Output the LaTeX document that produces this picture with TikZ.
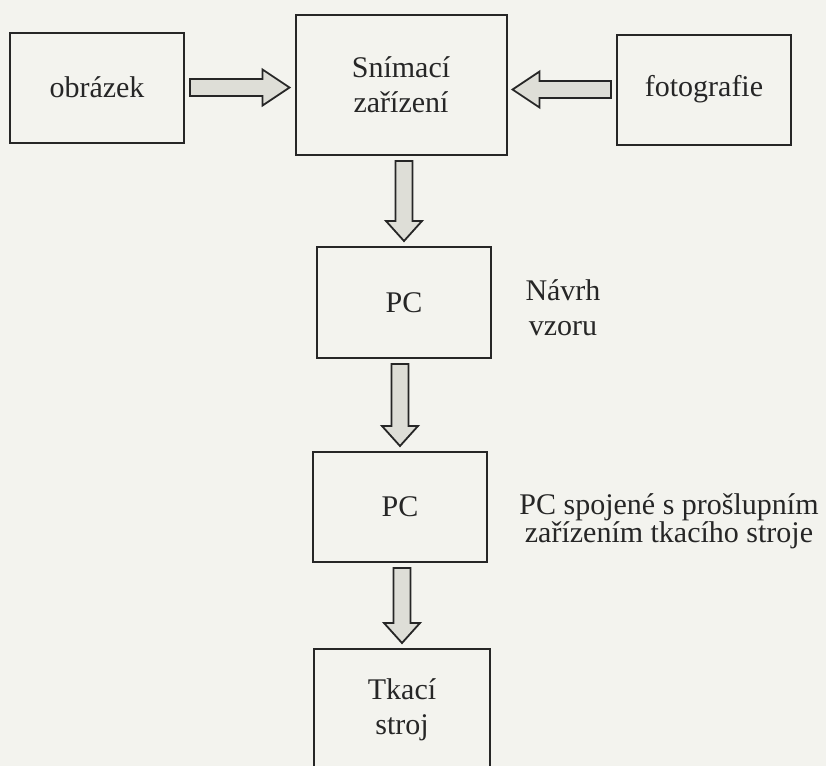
\documentclass[tikz,border=0pt]{standalone}
\usepackage{fontspec}
\setmainfont{Liberation Serif}
\usetikzlibrary{positioning,calc}

\definecolor{paper}{RGB}{243,243,238}
\definecolor{ink}{RGB}{38,38,38}
\definecolor{arrowgray}{RGB}{222,222,215}

\newcommand{\diagfont}{\fontsize{15pt}{17.5pt}\selectfont}

% thick outlined arrow between two points: [head length]{from}{to}
\newcommand{\blockarrow}[3][10pt]{%
  \coordinate (ba-s) at (#2);
  \coordinate (ba-t) at (#3);
  \coordinate (ba-a) at ($(ba-s)!2.5pt!(ba-t)$);
  \coordinate (ba-z) at ($(ba-t)!2.5pt!(ba-s)$);
  \coordinate (ba-b) at ($(ba-z)!#1!(ba-a)$);
  \draw[barrow] ($(ba-a)!4.25pt!90:(ba-z)$) -- ($(ba-b)!4.25pt!-90:(ba-a)$)
    -- ($(ba-b)!9pt!-90:(ba-a)$) -- (ba-z) -- ($(ba-b)!9pt!90:(ba-a)$)
    -- ($(ba-b)!4.25pt!90:(ba-a)$) -- ($(ba-a)!4.25pt!-90:(ba-z)$) -- cycle;
}

\begin{document}
\begin{tikzpicture}[x=0.5pt, y=-0.5pt,
    box/.style={draw=ink, line width=1pt, rectangle, align=center, font=\diagfont, text=ink, inner sep=0pt},
    side/.style={align=center, font=\diagfont, text=ink, inner sep=0pt},
    barrow/.style={draw=ink, line width=0.9pt, fill=arrowgray, line join=miter}]

  \path[use as bounding box, fill=paper] (0,0) rectangle (826,766);

  \node[box, minimum width=87pt, minimum height=55pt] (obr) at (97,87.5) {obrázek};
  \node[box, minimum width=105.5pt, minimum height=70pt] (sni) at (401,85) {Snímací\\zařízení};
  \node[box, minimum width=87pt, minimum height=55pt] (foto) at (704,89.5) {fotografie};
  \node[box, minimum width=87pt, minimum height=55.5pt] (pc1) at (404,302.5) {PC};
  \node[box, minimum width=87pt, minimum height=55pt] (pc2) at (400,507) {PC};
  \node[box, minimum width=88pt, minimum height=61pt] (stroj) at (402,710) {Tkací\\stroj};

  \node[side] (navrh) at (563,308) {Návrh\\vzoru};
  \node[side, font=\fontsize{15pt}{14pt}\selectfont] (spojeni) at (669,521) {PC spojené s prošlupním\\zařízením tkacího stroje};

  \blockarrow[13.5pt]{obr.east}{obr.east -| sni.west}
  \blockarrow[13.5pt]{foto.west}{foto.west -| sni.east}
  \blockarrow{sni.south -| pc1.north}{pc1.north}
  \blockarrow{pc1.south -| pc2.north}{pc2.north}
  \blockarrow{pc2.south -| stroj.north}{stroj.north}
\end{tikzpicture}
\end{document}
